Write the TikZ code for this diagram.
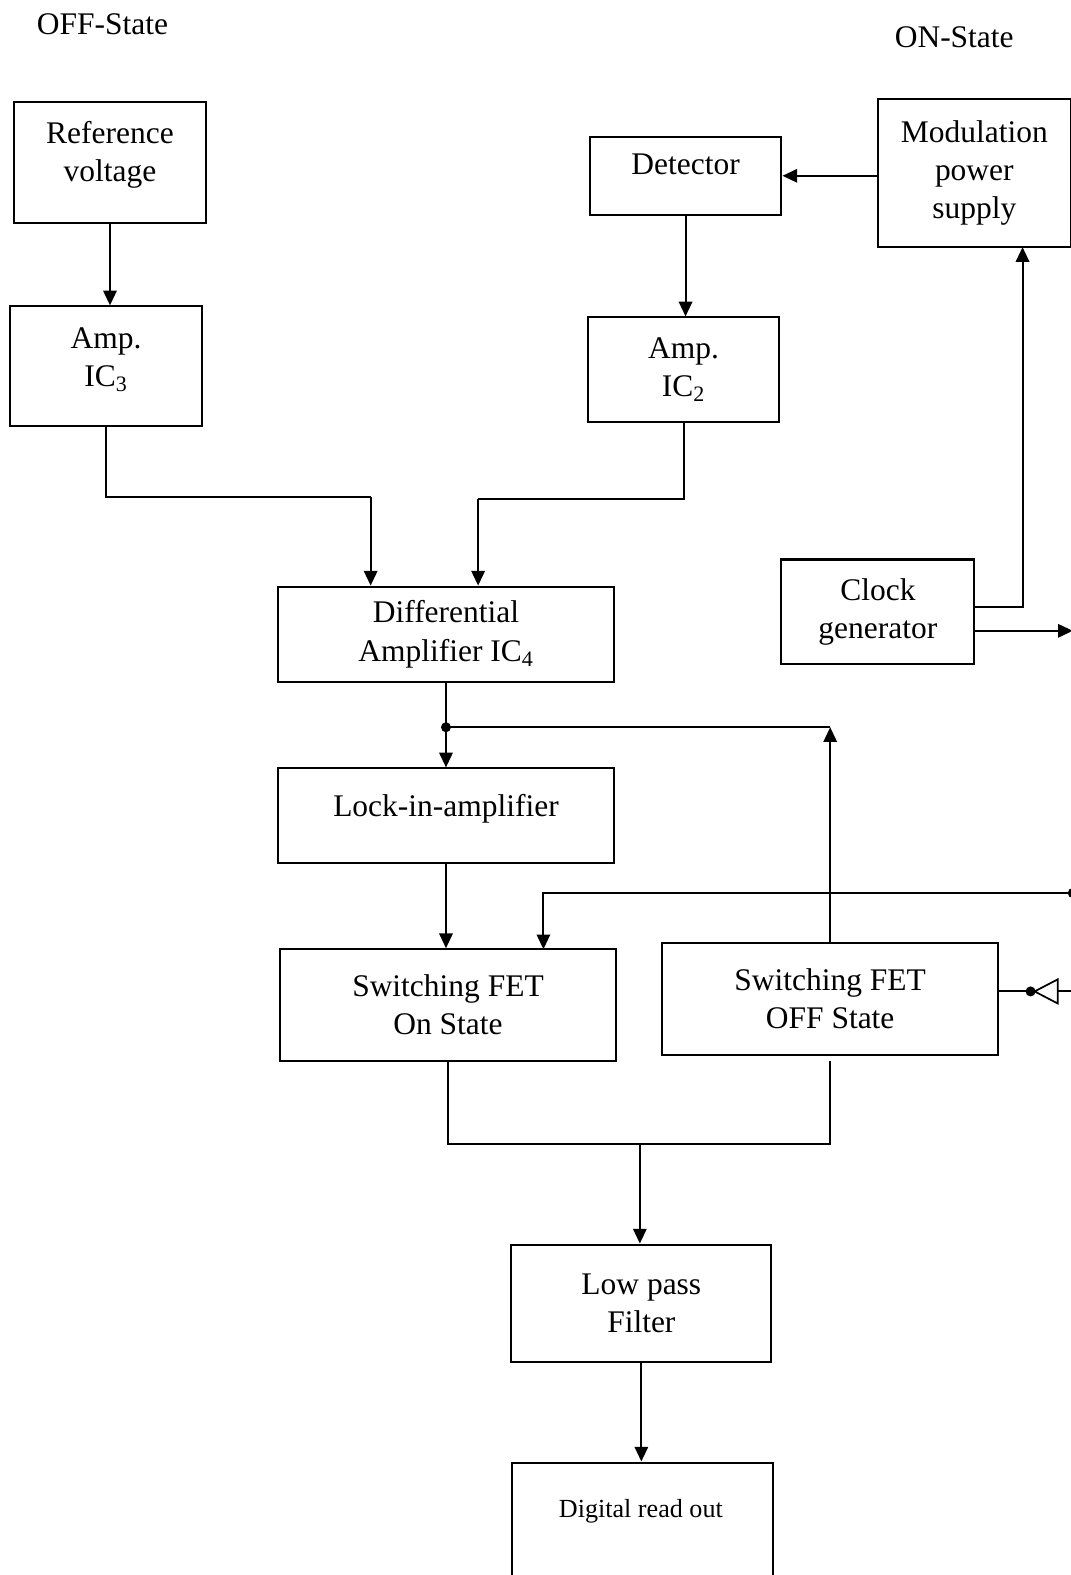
\documentclass[tikz,border=0pt]{standalone}
\usepackage{fontspec}
\setmainfont{Liberation Serif}
\usetikzlibrary{arrows.meta}
\begin{document}
\begin{tikzpicture}[x=0.75pt,y=-0.75pt,
  every node/.style={font=\fontsize{23.5pt}{28.5pt}\selectfont},
  box/.style={draw,line width=1.5pt,inner sep=0pt,align=center},
  conn/.style={line width=1.5pt},
  arr/.style={conn,-{Triangle[length=11pt,width=10pt]}},
  jdot/.style={fill=black}]
\useasboundingbox (0,0) rectangle (1066,1568);
\clip (0,0) rectangle (1066,1568);
% boxes
\node[box,minimum width=143.25pt,minimum height=90pt,text depth=17pt] (ref) at (109.5,162) {Reference\\voltage};
\node[box,minimum width=143.25pt,minimum height=89.25pt,text depth=14pt] (amp3) at (105.5,364.5) {Amp.\\IC\textsubscript{3}};
\node[box,minimum width=143.25pt,minimum height=58.5pt,text depth=17pt] (det) at (682.5,175) {Detector};
\node[box,minimum width=144pt,minimum height=110.25pt] (mod) at (970,172.5) {Modulation\\power\\supply};
\node[box,minimum width=143.25pt,minimum height=78pt] (amp2) at (680.5,368) {Amp.\\IC\textsubscript{2}};
\node[box,minimum width=144pt,minimum height=78pt] (clk) at (874,609) {Clock\\generator};
\node[box,minimum width=250.5pt,minimum height=71.25pt] (diff) at (444,631.5) {Differential\\Amplifier IC\textsubscript{4}};
\node[box,minimum width=250.5pt,minimum height=70.5pt,text depth=15.5pt] (lock) at (444,812) {Lock-in-amplifier};
\node[box,minimum width=250.5pt,minimum height=83.25pt] (fon) at (446,1000.5) {Switching FET\\On State};
\node[box,minimum width=251.25pt,minimum height=83.25pt] (foff) at (826.5,994.5) {Switching FET\\OFF State};
\node[box,minimum width=194.25pt,minimum height=87.75pt] (lpf) at (638.5,1297.5) {Low pass\\Filter};
\node[box,minimum width=195pt,minimum height=123pt] (dig) at (640,1538) {};
\node[font=\fontsize{19.5pt}{23pt}\selectfont] (digtxt) at (638,1505) {Digital read out};
% labels
\node (offl) at (102,24) {OFF-State};
\node (onl) at (950,37) {ON-State};
% coordinates
\coordinate (j1) at (369,495);
\coordinate (j2) at (476,497);
\coordinate (clkA) at (970,604);
\coordinate (clkB) at (970,628);
\coordinate (modin) at (1018,246);
\coordinate (clkout) at (1068,628);
\coordinate (dot1) at (444,724);
\coordinate (rdot) at (1068,889);
\coordinate (fetin) at (541,945);
\coordinate (offout) at (994,987);
\coordinate (idot) at (1026,987);
\coordinate (offb) at (826,1056);
\coordinate (m) at (637,1139);
% connectors
\draw[arr] (ref.south) -- (ref.south |- amp3.north);
\draw[conn] (amp3.south) |- (j1);
\draw[arr] (j1) -- (j1 |- diff.north);
\draw[conn] (amp2.south) |- (j2);
\draw[arr] (j2) -- (j2 |- diff.north);
\draw[arr] (det.south) -- (det.south |- amp2.north);
\draw[arr] (det.east -| mod.west) -- (det.east);
\draw[arr] (clkA) -| (modin);
\draw[arr] (clkB) -- (clkout);
\draw[conn] (diff.south) -- (dot1);
\draw[arr] (dot1) -- (dot1 |- lock.north);
\fill[jdot] (dot1) circle[radius=5];
\draw[arr] (foff.north) -- (foff.north |- dot1);
\draw[conn] (foff.north |- dot1) -- (dot1);
\draw[arr] (lock.south) -- (lock.south |- fon.north);
\draw[arr] (rdot) -| (fetin);
\fill[jdot] (rdot) circle[radius=5];
\draw[conn] (offout) -- (idot);
\fill[jdot] (idot) circle[radius=5];
\draw[line width=1.3pt] (1030,987) -- (1053,975) -- (1053,999) -- cycle;
\draw[conn] (1053,987) -- (1070,987);
\draw[conn] (fon.south) |- (m);
\draw[conn] (offb) |- (m);
\draw[arr] (m) -- (m |- lpf.north);
\draw[arr] (lpf.south) -- (lpf.south |- dig.north);
\end{tikzpicture}
\end{document}
